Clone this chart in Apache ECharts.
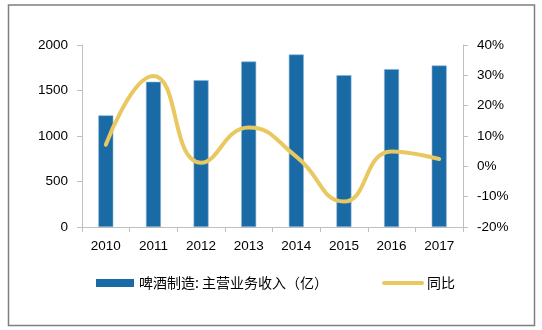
<!DOCTYPE html>
<html>
<head>
<meta charset="utf-8">
<script src="https://cdn.jsdelivr.net/npm/echarts@6/dist/echarts.min.js"></script>
<style>
  html, body { margin: 0; padding: 0; background: #fff; }
  #chart { width: 542px; height: 330px; }
</style>
</head>
<body>
<div id="chart"></div>
<script>
// Beer manufacturing: main business revenue (100M CNY) and year-on-year growth
const years = ['2010', '2011', '2012', '2013', '2014', '2015', '2016', '2017'];
const revenue = [1227, 1596, 1614, 1819, 1896, 1669, 1735, 1775];
const growth = [7.1, 29.8, 1.2, 12.8, 3.2, -11.6, 4.9, 2.4];
const leftTicks = [0, 500, 1000, 1500, 2000];
const rightTicks = [-20, -10, 0, 10, 20, 30, 40];

const chart = echarts.init(document.getElementById('chart'));
const axisFont = { fontFamily: 'Liberation Sans, Arial, sans-serif', fontSize: 13.5, color: '#000' };
const axisLineStyle = { color: '#BFBFBF', width: 1 };

chart.setOption({
  animation: false,
  graphic: [{
    type: 'rect',
    shape: { x: 8.5, y: 5, width: 526, height: 320.5 },
    style: { fill: 'none', stroke: '#7F7F7F', lineWidth: 1.5 },
    silent: true
  }],
  grid: { left: 82, right: 79, top: 45, bottom: 103, containLabel: false },
  legend: {
    top: 276,
    left: 96,
    padding: 0,
    itemGap: 54,
    itemWidth: 38,
    itemHeight: 8,
    textStyle: { fontFamily: 'Noto Sans CJK SC', fontSize: 14, color: '#000', padding: [0, 0, 0, 0] },
    data: [
      { name: '啤酒制造: 主营业务收入（亿）', icon: 'rect', itemStyle: { borderWidth: 0 } },
      { name: '同比', itemStyle: { opacity: 0 }, lineStyle: { width: 4, cap: 'round' } }
    ]
  },
  xAxis: {
    type: 'category',
    data: years,
    axisLine: { lineStyle: axisLineStyle },
    axisTick: { show: true, alignWithLabel: false, length: 5, lineStyle: axisLineStyle },
    axisLabel: Object.assign({ margin: 12 }, axisFont),
    splitLine: { show: false }
  },
  yAxis: [{
    type: 'value',
    min: leftTicks[0],
    max: leftTicks[leftTicks.length - 1],
    interval: 500,
    axisLine: { show: true, lineStyle: axisLineStyle },
    axisTick: { show: true, length: 5, lineStyle: axisLineStyle },
    axisLabel: Object.assign({ margin: 14, formatter: v => String(v) }, axisFont),
    splitLine: { show: false }
  }, {
    type: 'value',
    min: rightTicks[0],
    max: rightTicks[rightTicks.length - 1],
    interval: 10,
    position: 'right',
    axisLine: { show: true, lineStyle: axisLineStyle },
    axisTick: { show: true, length: 5, lineStyle: axisLineStyle },
    axisLabel: Object.assign({ margin: 14, formatter: v => v + '%' }, axisFont),
    splitLine: { show: false }
  }],
  series: [{
    name: '啤酒制造: 主营业务收入（亿）',
    type: 'bar',
    data: revenue,
    barWidth: 15,
    itemStyle: { color: '#1A6AA5', borderColor: '#8DB6D6', borderWidth: 0.6 }
  }, {
    name: '同比',
    type: 'line',
    yAxisIndex: 1,
    data: growth,
    smooth: 0.5,
    symbol: 'none',
    lineStyle: { color: '#E8C85F', width: 4, cap: 'round' },
    itemStyle: { color: '#E8C85F' }
  }]
});
</script>
</body>
</html>
